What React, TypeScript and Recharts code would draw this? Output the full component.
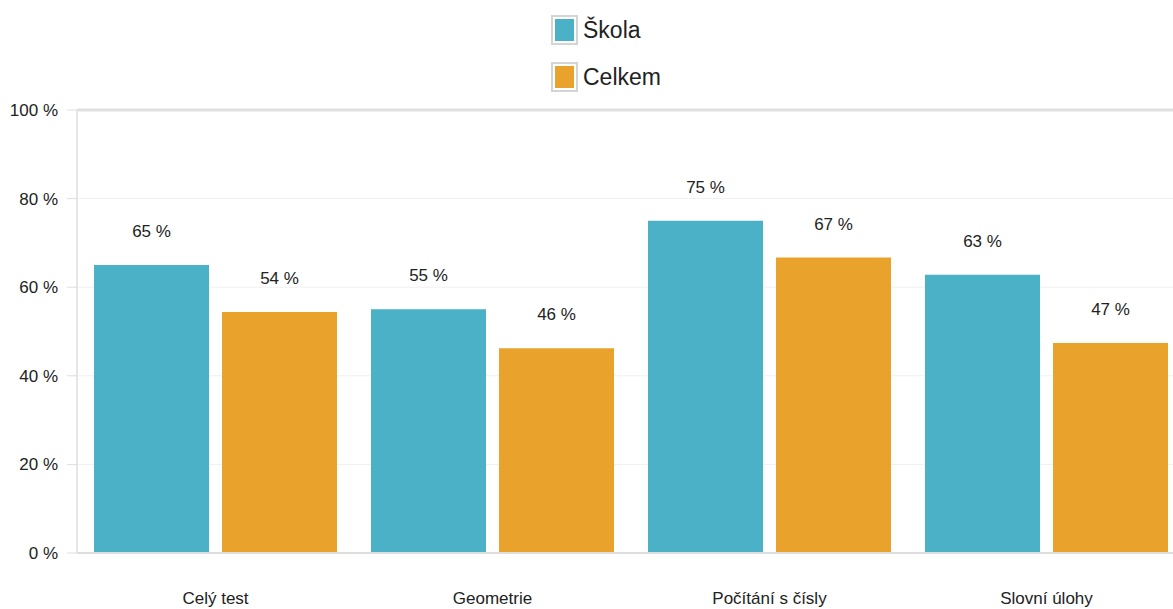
import React from 'react';
import { BarChart, Bar, XAxis, YAxis, CartesianGrid, Legend, LabelList, ReferenceLine } from 'recharts';

const categories = ['Celý test', 'Geometrie', 'Počítání s čísly', 'Slovní úlohy'];
const skolaValues = [65, 55, 75, 62.8];
const celkemValues = [54.4, 46.2, 66.7, 47.4];
const seriesNames = ['Škola', 'Celkem'];
const seriesColors = ['#4AB1C6', '#E9A22B'];
const yTicks = [0, 20, 40, 60, 80, 100];
const boundaryTicks = [0, 1, 2, 3, 4];

const data = categories.map((name, i) => ({ name, skola: skolaValues[i], celkem: celkemValues[i] }));

const FONT = '"Liberation Sans", Arial, sans-serif';
const pct = (v: number) => `${Math.round(v)} %`;

const LegendContent = () => (
  <div style={{ display: 'flex', flexDirection: 'column', gap: 19, fontFamily: FONT }}>
    {seriesNames.map((n, i) => (
      <div key={n} style={{ display: 'flex', alignItems: 'center', height: 28 }}>
        <div style={{ width: 21, height: 24, border: '2px solid #d4d4d4', background: '#fff', padding: 1, boxSizing: 'content-box' }}>
          <div style={{ width: 19, height: 22, background: seriesColors[i], margin: 1 }} />
        </div>
        <span style={{ marginLeft: 5, fontSize: 23, color: '#222', lineHeight: '28px' }}>{n}</span>
      </div>
    ))}
  </div>
);

export default function App() {
  return (
    <div style={{ position: 'absolute', left: 0, top: 0, width: 1173, height: 609, overflow: 'hidden', background: '#fff' }}>
      <BarChart
        width={1195}
        height={609}
        data={data}
        margin={{ top: 110, right: 10, bottom: 0, left: 0 }}
        barSize={115}
        barGap={13}
        style={{ fontFamily: FONT }}
      >
        <CartesianGrid xAxisId="a" stroke="#f0f0f0" strokeWidth={1} />
        <XAxis
          xAxisId="a"
          type="number"
          domain={[0, 4]}
          ticks={boundaryTicks}
          tick={false}
          tickSize={11}
          height={11}
          tickLine={{ stroke: '#e4e4e4', strokeWidth: 1 }}
          axisLine={{ stroke: '#dddddd', strokeWidth: 2 }}
        />
        <XAxis
          xAxisId="b"
          dataKey="name"
          type="category"
          tickLine={false}
          axisLine={false}
          tickSize={0}
          tickMargin={28}
          height={45}
          tick={{ fill: '#222', fontSize: 17, fontFamily: FONT }}
        />
        <YAxis
          domain={[0, 100]}
          ticks={yTicks}
          width={77}
          tickSize={10}
          tickMargin={9}
          tickFormatter={(v) => `${v} %`}
          tick={{ fill: '#222', fontSize: 17, fontFamily: FONT }}
          tickLine={{ stroke: '#dddddd' }}
          axisLine={{ stroke: '#e6e6e6', strokeWidth: 2 }}
        />
        <ReferenceLine y={100} xAxisId="a" stroke="#e0e0e0" strokeWidth={3} />
        <Legend
          layout="vertical"
          align="center"
          verticalAlign="middle"
          content={<LegendContent />}
          wrapperStyle={{ position: 'absolute', top: 16, left: 551, width: 200 }}
        />
        <Bar xAxisId="b" dataKey="skola" name={seriesNames[0]} fill={seriesColors[0]} isAnimationActive={false}>
          <LabelList dataKey="skola" position="top" offset={28} formatter={pct} style={{ fill: '#222', fontSize: 17, fontFamily: FONT }} />
        </Bar>
        <Bar xAxisId="b" dataKey="celkem" name={seriesNames[1]} fill={seriesColors[1]} isAnimationActive={false}>
          <LabelList dataKey="celkem" position="top" offset={28} formatter={pct} style={{ fill: '#222', fontSize: 17, fontFamily: FONT }} />
        </Bar>
      </BarChart>
    </div>
  );
}
